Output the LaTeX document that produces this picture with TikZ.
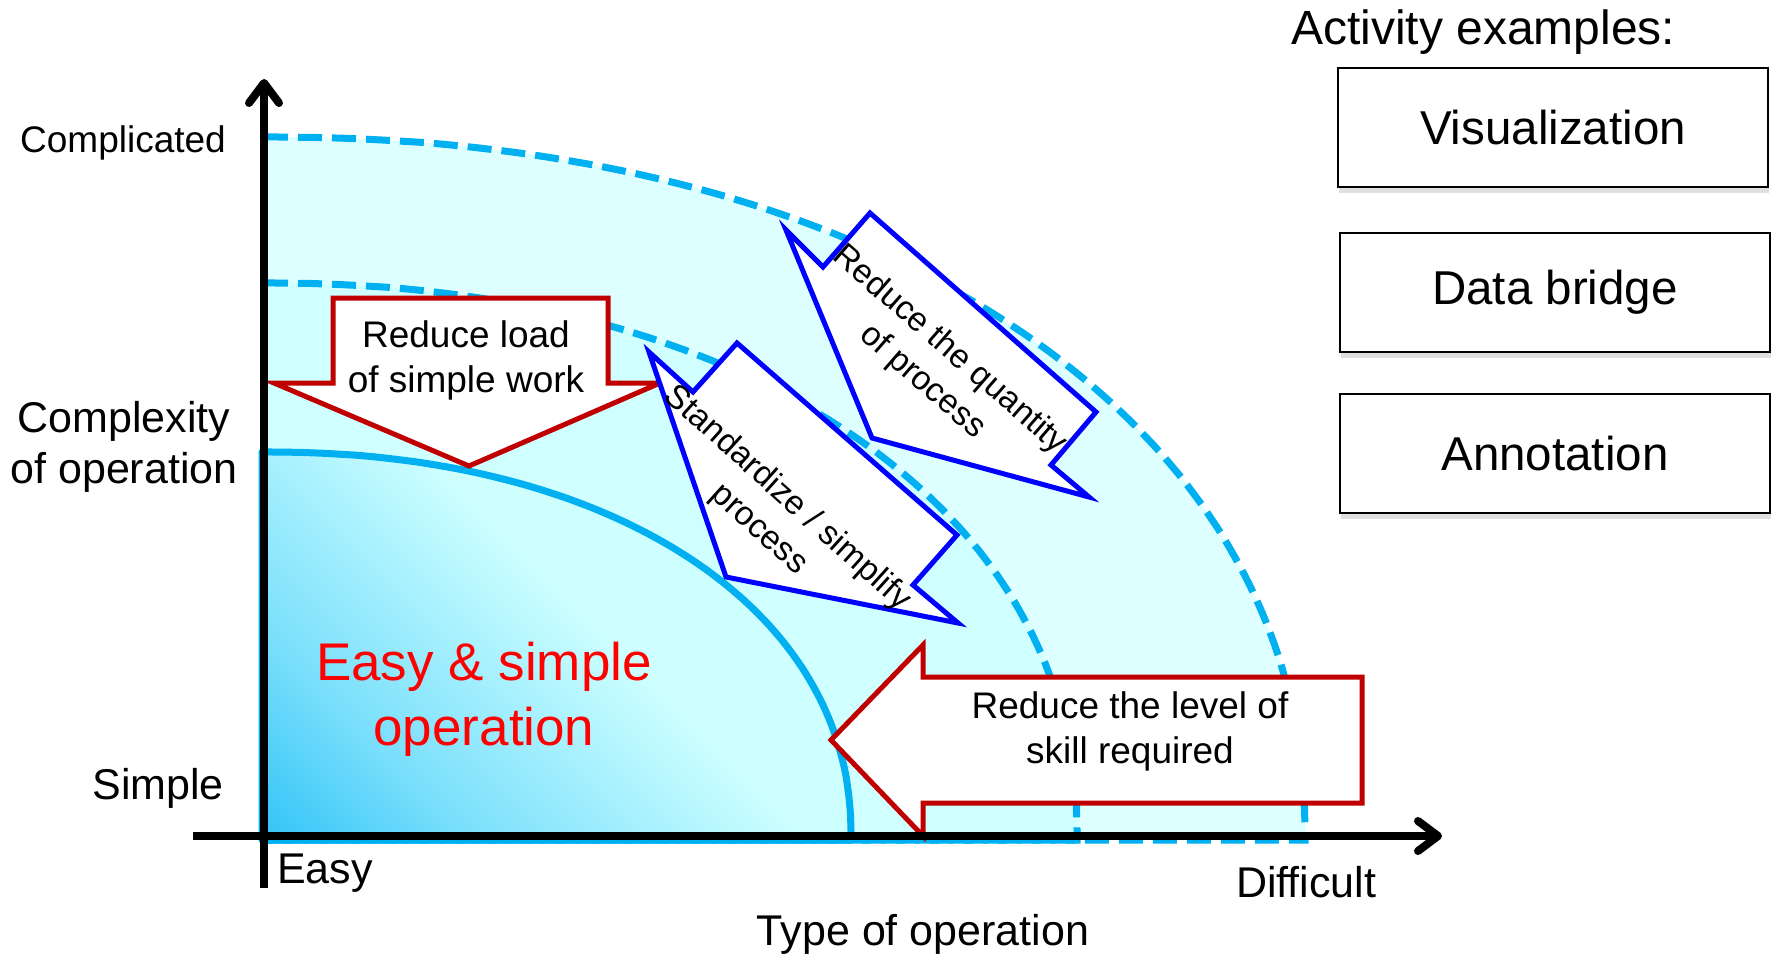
\documentclass[tikz,border=0pt]{standalone}
\usepackage{fontspec}
\setmainfont{Liberation Sans}
\usetikzlibrary{arrows.meta,shadows}

\definecolor{lineblue}{RGB}{0,176,240}
\definecolor{outerfill}{RGB}{222,255,255}
\definecolor{midfill}{RGB}{208,255,255}
\definecolor{cornerblue}{RGB}{50,196,247}
\definecolor{gradmid}{RGB}{122,223,251}
\definecolor{innerlight}{RGB}{205,255,255}
\definecolor{arrowred}{RGB}{192,0,0}
\definecolor{textred}{RGB}{255,0,0}
\definecolor{arrowblue}{RGB}{0,0,255}

\pgfdeclareverticalshading{cornergrad}{100bp}{color(0bp)=(cornerblue); color(14.6bp)=(cornerblue); color(27bp)=(gradmid); color(47bp)=(innerlight); color(100bp)=(innerlight)}

\begin{document}
\begin{tikzpicture}[x=1pt,y=-1pt,
  dashedarc/.style={draw=lineblue, line width=7pt, dash pattern=on 24pt off 10pt},
  solidarc/.style={draw=lineblue, line width=7pt, line join=round},
  redarrow/.style={draw=arrowred, fill=white, line width=5pt, miter limit=25},
  bluearrow/.style={draw=arrowblue, fill=white, line width=5pt, miter limit=25},
  axisline/.style={line width=8pt, -{Straight Barb[length=20pt,width=30pt,line cap=round,line join=round]}},
  lab/.style={inner sep=0pt, font=\fontsize{43}{51}\selectfont},
  labsmall/.style={inner sep=0pt, font=\fontsize{37}{45}\selectfont},
  arrowtext/.style={inner sep=0pt, align=center, font=\fontsize{37}{45}\selectfont},
  bluetext/.style={inner sep=0pt, align=center, font=\fontsize{33.5}{42}\selectfont},
  redbig/.style={inner sep=0pt, align=center, text=textred, font=\fontsize{53}{65}\selectfont},
  examplebox/.style={draw=black, line width=2pt, fill=white, minimum width=430pt, minimum height=119pt,
     inner sep=0pt, font=\fontsize{47.5}{57}\selectfont,
     drop shadow={shadow xshift=1pt, shadow yshift=-6pt, opacity=0.25}},
]
\useasboundingbox (0,0) rectangle (1771,955);

% ---- regions ----
\fill[outerfill] (262,840) -- (264,137)
  -- plot[domain=0.5:89.5, samples=90, variable=\t] ({264+1041*sin(\t)^0.93}, {837-700*cos(\t)^0.93})
  -- (1305,840) -- cycle;
\fill[midfill] (262,840) -- (264,283)
  -- plot[domain=0.5:89.5, samples=90, variable=\t] ({264+813*sin(\t)^0.93}, {837-554*cos(\t)^0.93})
  -- (1077,840) -- cycle;
\begin{scope}
  \path[clip] (262,840) -- (264,452)
    -- plot[domain=0.5:89.5, samples=90, variable=\t] ({264+587*sin(\t)^0.93}, {837-385*cos(\t)^0.93})
    -- (851,840) -- cycle;
  \shade[shading=cornergrad, shading angle=-45] (262,840) rectangle (862,240);
\end{scope}

% ---- outlines ----
\draw[dashedarc] (264,137)
  -- plot[domain=0.5:89.5, samples=90, variable=\t] ({264+1041*sin(\t)^0.93}, {837-700*cos(\t)^0.93})
  -- (1305,840) -- (262,840);
\draw[dashedarc] (264,283)
  -- plot[domain=0.5:89.5, samples=90, variable=\t] ({264+813*sin(\t)^0.93}, {837-554*cos(\t)^0.93})
  -- (1077,840) -- (262,840);
\draw[solidarc] (262,840) -- (262,452) -- (264,452)
  -- plot[domain=0.5:89.5, samples=90, variable=\t] ({264+587*sin(\t)^0.93}, {837-385*cos(\t)^0.93})
  -- (851,840) -- cycle;

% ---- arrows ----
\draw[redarrow] (333,298) -- (608,298) -- (608,383) -- (660,383) -- (469,466) -- (274,383) -- (333,383) -- cycle;
\node[arrowtext] (loadtxt) at (466,360) {Reduce load\\of simple work};

\draw[redarrow] (1362,677) -- (1362,803) -- (923,803) -- (923,836) -- (831,740) -- (923,645) -- (923,677) -- cycle;
\node[arrowtext] (leveltxt) at (1130,731) {Reduce the level of\\skill required};

\draw[bluearrow] (870,213) -- (1096,412) -- (1051,465) -- (1089,497) -- (872,438) -- (786,230) -- (823,267) -- cycle;
\node[bluetext, rotate=-41] (quanttxt) at (936,366) {Reduce the quantity\\of process};

\draw[bluearrow] (737,343) -- (957,535) -- (913,585) -- (958,623) -- (726,577) -- (649,352) -- (693,392) -- cycle;
\node[bluetext, rotate=-42] (stdtxt) at (773,514) {Standardize / simplify\\process};

% ---- region label ----
\node[redbig] (easysimple) at (484,699) {Easy \& simple\\operation};

% ---- axes ----
\coordinate (ybot) at (264,888);
\coordinate (ytop) at (264,79);
\coordinate (xleft) at (193,836);
\coordinate (xright) at (1442,836);
\draw[axisline] (ybot) -- (ytop);
\draw[axisline] (xleft) -- (xright);

% ---- axis labels ----
\node[labsmall, anchor=base east] (complicated) at (226,152) {Complicated};
\node[lab, align=center] (complexity) at (124,447) {Complexity\\of operation};
\node[lab, anchor=base east] (simple) at (224,799) {Simple};
\node[lab, anchor=base west] (easy) at (277,883) {Easy};
\node[lab, anchor=base west] (difficult) at (1236,897) {Difficult};
\node[lab, anchor=base] (typeop) at (923,945) {Type of operation};

% ---- activity examples ----
\node[inner sep=0pt, anchor=base west, font=\fontsize{48}{57}\selectfont] (actex) at (1291,45) {Activity examples:};
\node[examplebox] (vis) at (1553,127.5) {Visualization};
\node[examplebox] (bridge) at (1555,292) {Data bridge};
\node[examplebox] (annot) at (1555,453.5) {Annotation};
\end{tikzpicture}
\end{document}
